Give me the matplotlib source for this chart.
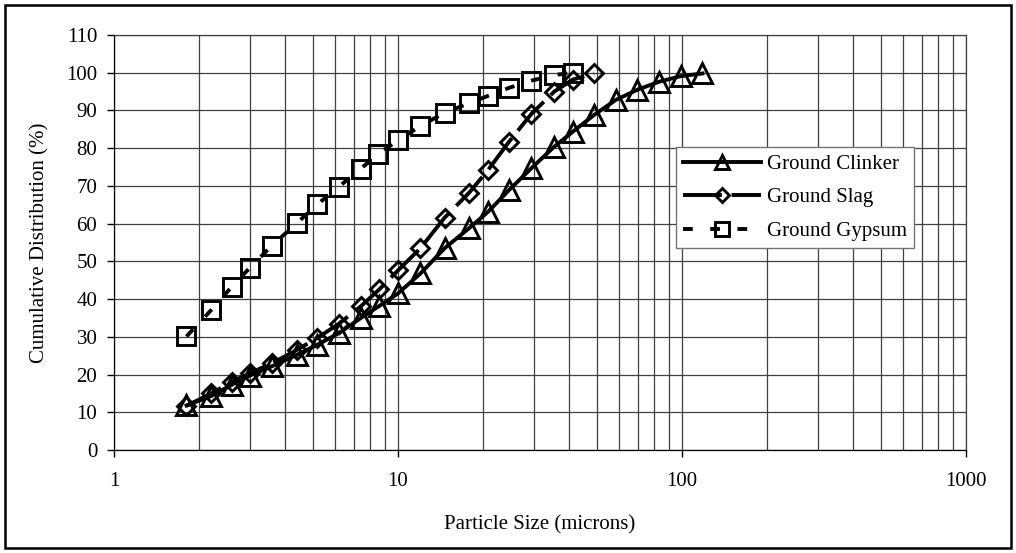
import matplotlib
matplotlib.use("Agg")
import matplotlib.pyplot as plt
from matplotlib.patches import Rectangle
from matplotlib.ticker import FixedLocator, FixedFormatter, NullFormatter, LogLocator

plt.rcParams['font.family'] = ['Liberation Serif', 'DejaVu Serif']

# tamaños de particula (micras)
x_clinker = [1.8, 2.2, 2.6, 3.0, 3.6, 4.4, 5.2, 6.2, 7.4, 8.6, 10, 12, 14.6, 17.8,
             20.8, 24.6, 29.5, 35.5, 41.3, 49, 58.5, 69.7, 83, 99, 118]
y_clinker = [11.8, 14.3, 17.3, 19.7, 22.2, 25.2, 27.9, 31.0, 35.0, 38.2, 41.5, 46.8,
             53.5, 58.8, 63.2, 68.9, 74.7, 80.4, 84.4, 88.8, 92.8, 95.5, 97.6, 99.1, 99.8]

x_slag = [1.8, 2.2, 2.6, 3.0, 3.6, 4.4, 5.2, 6.2, 7.4, 8.6, 10, 12, 14.6, 17.8,
          20.8, 24.6, 29.5, 35.5, 41.3, 49]
y_slag = [11.7, 15.0, 18.1, 20.3, 23.0, 26.5, 29.7, 33.5, 38.1, 42.6, 47.6, 53.5,
          61.6, 68.2, 74.3, 81.7, 89.1, 95.0, 98.2, 99.8]

x_gypsum = [1.8, 2.2, 2.6, 3.0, 3.6, 4.4, 5.2, 6.2, 7.4, 8.5, 10, 12, 14.6, 17.8,
            20.8, 24.6, 29.5, 35.5, 41.3]
y_gypsum = [30.1, 37.1, 43.3, 48.2, 54.2, 60.1, 65.1, 69.8, 74.6, 78.4, 82.1, 85.9,
            89.4, 91.9, 93.9, 96.0, 97.9, 99.4, 100.0]

x_ticks = [1, 10, 100, 1000]
x_labels = ['1', '10', '100', '1000']
y_ticks = list(range(0, 111, 10))

fig = plt.figure(figsize=(10.16, 5.53), dpi=100)
ax = fig.add_axes([114/1016, 1 - 450/553, 852/1016, 415/553])

ax.plot(x_clinker, y_clinker, color='black', lw=2.8, marker='^', ms=14,
        mfc='none', mec='black', mew=2.1, label='Ground Clinker', zorder=4)
ax.plot(x_slag, y_slag, color='black', lw=2.8, marker='D', ms=9.5,
        mfc='none', mec='black', mew=2.1, dashes=(10, 2.5), label='Ground Slag', zorder=4)
ax.plot(x_gypsum, y_gypsum, color='black', lw=2.8, marker='s', ms=12.5,
        mfc='none', mec='black', mew=2.1, dashes=(2.5, 4.5), label='Ground Gypsum', zorder=4)

ax.set_xscale('log')
ax.set_xlim(1, 1000)
ax.set_ylim(0, 110)
ax.xaxis.set_major_locator(FixedLocator(x_ticks))
ax.xaxis.set_major_formatter(FixedFormatter(x_labels))
ax.xaxis.set_minor_locator(LogLocator(base=10, subs=range(2, 10)))
ax.xaxis.set_minor_formatter(NullFormatter())
ax.set_yticks(y_ticks)

ax.grid(True, which='major', color='0.25', lw=0.9)
ax.grid(True, which='minor', axis='x', color='0.25', lw=0.9)
ax.tick_params(which='major', direction='out', length=5, width=1, labelsize=15)
ax.tick_params(axis='y', pad=7)
ax.tick_params(axis='x', pad=11)
ax.tick_params(which='minor', length=0)
for s in ax.spines.values():
    s.set_color('0.25')
    s.set_linewidth(0.9)
ax.spines['left'].set_color('black')
ax.spines['bottom'].set_color('black')

ax.set_xlabel('Particle Size (microns)', fontsize=15, labelpad=17)
ax.set_ylabel('Cumulative Distribution (%)', fontsize=15, labelpad=12)

leg = ax.legend(loc='upper left', bbox_to_anchor=((676-114)/852, (450-147)/415),
                borderaxespad=0, fontsize=15, handlelength=3.75, handletextpad=0.25,
                borderpad=0.35, numpoints=1, markerscale=0.75,
                fancybox=False, framealpha=1, edgecolor='0.45', labelspacing=0.67)
leg.get_frame().set_linewidth(1)

# marco exterior de la figura
fig.patches.append(Rectangle((5/1016, 5/553), 1006/1016, 543/553, transform=fig.transFigure,
                             fill=False, edgecolor='black', lw=1.8))

fig.savefig('out.png', dpi=100)
